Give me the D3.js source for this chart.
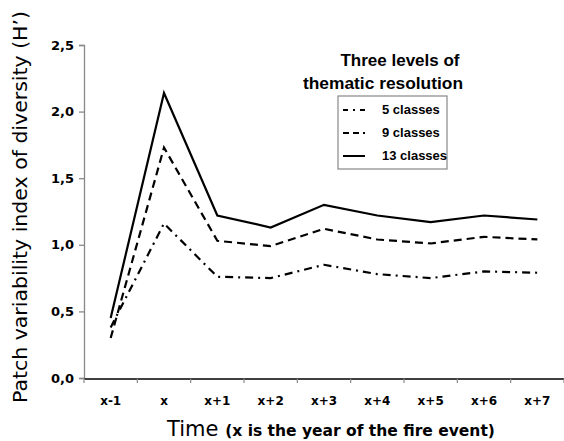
<!DOCTYPE html>
<html><head><meta charset="utf-8">
<script src="https://cdn.jsdelivr.net/npm/d3@7"></script>
<style>body{margin:0;background:#fff}svg{display:block}</style>
</head><body><svg id="c" width="564" height="441"></svg>
<script>
const categories = ["x-1","x","x+1","x+2","x+3","x+4","x+5","x+6","x+7"];
const classes5  = [0.38,1.16,0.76,0.75,0.85,0.78,0.75,0.80,0.79];
const classes9  = [0.30,1.73,1.03,0.99,1.12,1.04,1.01,1.06,1.04];
const classes13 = [0.45,2.14,1.22,1.13,1.30,1.22,1.17,1.22,1.19];
const yTicks = [0,0.5,1.0,1.5,2.0,2.5];
const seriesNames = ["5 classes","9 classes","13 classes"];

const svg = d3.select("#c");
const x = d3.scaleBand().domain(categories).range([84,564]);
const y = d3.scaleLinear().domain([0,2.5]).range([378,45]);

// y axis
const ya = svg.append("g").attr("transform","translate(84,0)")
  .call(d3.axisLeft(y).tickValues(yTicks).tickSize(5).tickPadding(5)
    .tickFormat(d=>d3.format(".1f")(d).replace(".",",")));
ya.selectAll("path,line").attr("stroke","#888").attr("stroke-width",1.3);
ya.selectAll("text").attr("font-family","DejaVu Sans, Verdana, sans-serif")
  .attr("font-weight","bold").attr("font-size",13).attr("fill","#000");

// x axis
const xa = svg.append("g").attr("transform","translate(0,378.5)")
  .call(d3.axisBottom(x).tickSizeOuter(0).tickSize(0).tickPadding(18));
xa.select("path").attr("stroke","#000").attr("stroke-width",1.5);
xa.selectAll("text").attr("font-family","DejaVu Sans, Verdana, sans-serif")
  .attr("font-weight","bold").attr("font-size",12).attr("fill","#000");
// boundary ticks between categories
const bounds = categories.map(c=>x(c)).concat([x(categories[categories.length-1])+x.bandwidth()]);
svg.append("g").selectAll("line").data(bounds).join("line")
  .attr("x1",d=>d).attr("x2",d=>d).attr("y1",378.5).attr("y2",383)
  .attr("stroke","#888").attr("stroke-width",1.2);

// lines
const line = d3.line().x((d,i)=>x(categories[i])+x.bandwidth()/2).y(d=>y(d));
const styles = [
  {data:classes5, dash:"8,5,2,5"},
  {data:classes9, dash:"8,5"},
  {data:classes13, dash:null}
];
styles.forEach(s=>{
  svg.append("path").datum(s.data).attr("d",line)
    .attr("fill","none").attr("stroke","#000").attr("stroke-width",2.2)
    .attr("stroke-dasharray",s.dash);
});

// legend
const lg = svg.append("g");
const lf = "Liberation Sans Narrow, Liberation Sans, Arial Narrow, sans-serif";
lg.append("text").attr("x",400).attr("y",66).attr("text-anchor","middle")
  .attr("font-family",lf).attr("font-weight","bold").attr("font-size",17).text("Three levels of");
lg.append("text").attr("x",383).attr("y",89).attr("text-anchor","middle")
  .attr("font-family",lf).attr("font-weight","bold").attr("font-size",17)
  .attr("textLength",160).attr("lengthAdjust","spacingAndGlyphs").text("thematic resolution");
lg.append("rect").attr("x",338).attr("y",96).attr("width",109).attr("height",73)
  .attr("fill","#fff").attr("stroke","#888").attr("stroke-width",1.2);
const ly = [114,137,160];
styles.forEach((s,i)=>{
  lg.append("line").attr("x1",343).attr("x2",365).attr("y1",ly[i]-4).attr("y2",ly[i]-4)
    .attr("stroke","#000").attr("stroke-width",2)
    .attr("stroke-dasharray", i===0 ? "5,5,2,5" : (i===1 ? "6,4" : null));
  lg.append("text").attr("x",382).attr("y",ly[i])
    .attr("font-family",lf).attr("font-weight","bold").attr("font-size",13).text(seriesNames[i]);
});

// axis titles
svg.append("text").attr("transform","translate(27,207) rotate(-90)").attr("text-anchor","middle")
  .attr("font-family","DejaVu Sans, Verdana, sans-serif").attr("font-size",19)
  .attr("textLength",392).attr("lengthAdjust","spacingAndGlyphs")
  .text("Patch variability index of diversity (H’)");
const xt = svg.append("text").attr("x",331).attr("y",436).attr("text-anchor","middle")
  .attr("font-family","DejaVu Sans, Verdana, sans-serif");
xt.append("tspan").attr("font-size",21).text("Time ");
xt.append("tspan").attr("font-size",15.5).attr("font-weight","bold").text("(x is the year of the fire event)");
</script></body></html>
